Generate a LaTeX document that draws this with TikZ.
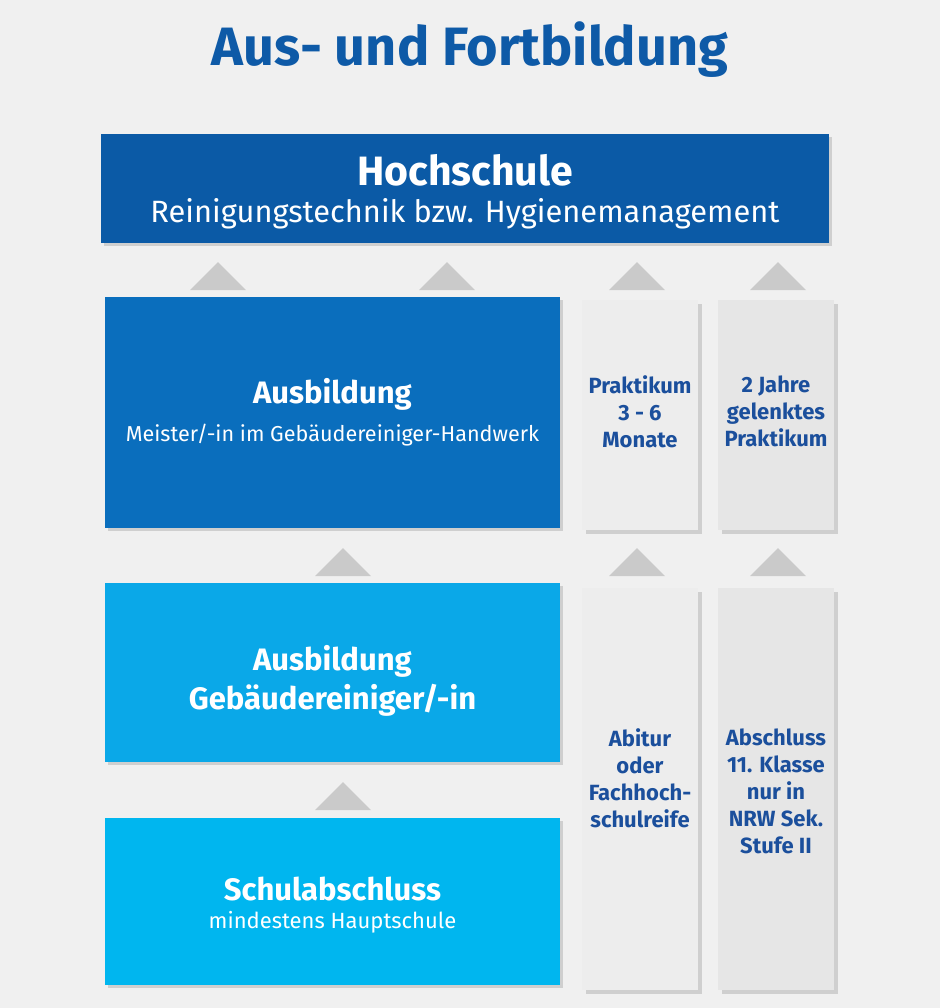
\documentclass[tikz,border=0pt]{standalone}
\usepackage{fontspec}
\setmainfont{Fira Sans}
\usetikzlibrary{shadows}

\definecolor{bggray}{HTML}{F0F0F0}
\definecolor{titleblue}{HTML}{0E5AA7}
\definecolor{hochblue}{HTML}{0B5AA6}
\definecolor{meisterblue}{HTML}{0A6EBD}
\definecolor{gesellblue}{HTML}{0AA8E8}
\definecolor{schulblue}{HTML}{00B6EF}
\definecolor{coltextblue}{HTML}{1B4F9C}
\definecolor{colgray}{HTML}{EDEDED}
\definecolor{coldark}{HTML}{E6E6E6}
\definecolor{shadowgray}{HTML}{CFCFCF}
\definecolor{trigray}{HTML}{CACACA}

\tikzset{
	stagebox/.style={rectangle, inner sep=0pt, align=center, text=white,
		drop shadow={shadow xshift=1.5pt, shadow yshift=-1.5pt, fill=shadowgray, opacity=1}},
	column/.style={rectangle, inner sep=0pt, fill=colgray, minimum width=58pt,
		drop shadow={shadow xshift=2pt, shadow yshift=-2pt, fill=shadowgray, opacity=1}},
	coltext/.style={inner sep=0pt, anchor=north, align=center, text=coltextblue,
		font=\fontsize{11}{13.5}\selectfont\bfseries},
	uptri/.style={fill=trigray}
}

\begin{document}
\begin{tikzpicture}[x=0.5pt,y=-0.5pt]
			% Background
			\fill[bggray] (0,0) rectangle (940,1008);

			% Title
			\node[text=titleblue, font=\fontsize{27}{32}\selectfont\bfseries] (title) at (470,50) {Aus- und Fortbildung};

			% Draw the boxes (the rules push the text a bit down)
			\node[stagebox, fill=hochblue, minimum width=364pt, minimum height=54.5pt,
				font=\fontsize{15.4}{18.5}\selectfont] (hoch) at (465,188.5)
				{{\fontsize{20.5}{18.5}\selectfont\bfseries\rule{0pt}{18.5pt}Hochschule}\\
				Reinigungstechnik bzw. Hygienemanagement};
			\node[stagebox, fill=meisterblue, minimum width=227.5pt, minimum height=115.5pt,
				font=\fontsize{10.8}{19}\selectfont] (meister) at (332.5,412.5)
				{{\fontsize{15.5}{19}\selectfont\bfseries Ausbildung}\\
				Meister/-in im Gebäudereiniger-Handwerk};
			\node[stagebox, fill=gesellblue, minimum width=227.5pt, minimum height=89.5pt,
				font=\fontsize{15.5}{19.5}\selectfont\bfseries] (gesell) at (332.5,672.5)
				{\rule{0pt}{21pt}Ausbildung\\Gebäudereiniger/-in};
			\node[stagebox, fill=schulblue, minimum width=227.5pt, minimum height=83.5pt,
				font=\fontsize{11}{14}\selectfont] (schule) at (332.5,901.5)
				{{\fontsize{15.5}{14}\selectfont\bfseries\rule{0pt}{15pt}Schulabschluss}\\
				mindestens Hauptschule};

			% Draw the columns
			\node[column, minimum height=115pt] (prak) at (640,415) {};
			\node[column, minimum height=115pt, fill=coldark] (lenk) at (776,415) {};
			\node[column, minimum height=201pt] (abi) at (640,789) {};
			\node[column, minimum height=201pt, fill=coldark] (kla) at (776,789) {};

			% Label the columns
			\node[coltext] (praktext) at (prak.center |- 0,375) {Praktikum\\3 - 6\\Monate};
			\node[coltext] (lenktext) at (lenk.center |- 0,375) {2 Jahre\\gelenktes\\Praktikum};
			\node[coltext] (abitext) at (abi.center |- 0,728) {Abitur\\oder\\Fachhoch-\\schulreife};
			\node[coltext] (klatext) at (kla.center |- 0,728) {Abschluss\\11. Klasse\\nur in\\NRW Sek.\\Stufe II};

			% Draw the triangles
			\foreach \tx/\ty in {218/262, 447/262, 637/262, 778/262, 343/548, 637/548, 778/548, 343/782}
				\fill[uptri] (\tx-28,\ty+28) -- (\tx,\ty) -- (\tx+28,\ty+28) -- cycle;

		\end{tikzpicture}
\end{document}
